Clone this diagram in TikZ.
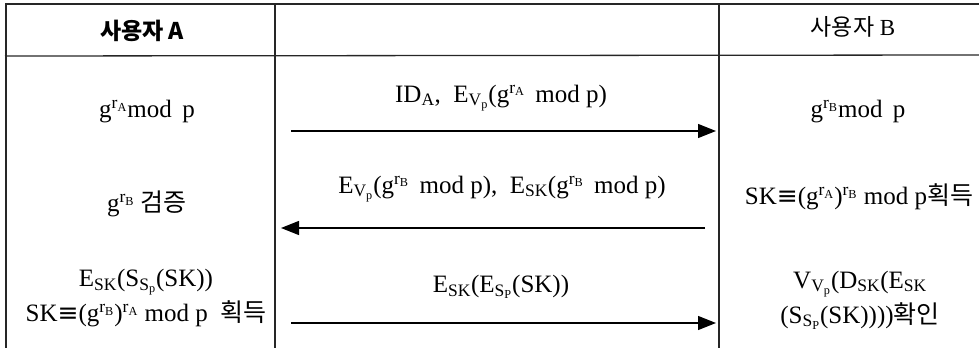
\documentclass[tikz,border=0pt]{standalone}
\usepackage{fontspec}
\setmainfont{Liberation Serif}
\newfontfamily\kr{Noto Sans CJK KR}
\usetikzlibrary{arrows.meta}
\newcommand\mysub[1]{\textsubscript{#1}}
\newcommand\mysup[1]{\textsuperscript{#1}}
\begin{document}
\begin{tikzpicture}[x=1pt,y=-1pt,
  txt/.style={inner sep=0pt,font=\fontsize{25}{34}\selectfont,align=center},
  hdr/.style={inner sep=0pt,font=\fontsize{23}{28}\selectfont},
  grid/.style={line width=1.3pt,black!85},
  msg/.style={line width=1.3pt,-{Triangle[length=18pt,width=14pt]}}]
\useasboundingbox (0,0) rectangle (979,348);
% table lines
\draw[line width=2pt,black!85] (5,4) -- (979,4);
\draw[grid] (5,56) -- (979,55);
\draw[line width=2.6pt,black!85] (6,3) -- (6,348);
\draw[grid] (275,4) -- (275,348);
\draw[grid] (719,4) -- (719,348);
% headers
\node[hdr] (hA) at (142,31) {\kr\bfseries 사용자 A};
\node[hdr] (hB) at (853,27) {{\kr 사용자} B};
% row 1
\node[txt] (a1) at (147,112) {g\mysup{r\mysub{A}}mod\, p};
\node[txt] (m1) at (501,98) {ID\mysub{A}, \ E\mysub{V\mysub{p}}(g\mysup{r\mysub{A}}\, mod p)};
\node[txt] (b1) at (858,112) {g\mysup{r\mysub{B}}mod\, p};
\coordinate (s1) at (291,131);
\coordinate (e1) at (716,131);
\draw[msg] (s1) -- (e1);
% row 2
\node[txt] (a2) at (147,204) {g\mysup{r\mysub{B}} {\kr 검증}};
\node[txt] (m2) at (502,189) {E\mysub{V\mysub{p}}(g\mysup{r\mysub{B}}\, mod p), \ E\mysub{SK}(g\mysup{r\mysub{B}}\, mod p)};
\node[txt] (b2) at (859,197) {SK{\fontspec{DejaVu Sans}≡}(g\mysup{r\mysub{A}})\mysup{r\mysub{B}} mod p{\kr 획득}};
\coordinate (s2) at (705,228);
\coordinate (e2) at (281,228);
\draw[msg] (s2) -- (e2);
% row 3
\node[txt] (a3) at (146,298) {E\mysub{SK}(S\mysub{S\mysub{p}}(SK))\\[1pt]SK{\fontspec{DejaVu Sans}≡}(g\mysup{r\mysub{B}})\mysup{r\mysub{A}} mod p \ {\kr 획득}};
\node[txt] (m3) at (501,287) {E\mysub{SK}(E\mysub{S\mysub{P}}(SK))};
\node[txt] (b3) at (860,300) {V\mysub{V\mysub{p}}(D\mysub{SK}(E\mysub{SK}\\[1pt](S\mysub{S\mysub{P}}(SK)))){\kr 확인}};
\coordinate (s3) at (291,323);
\coordinate (e3) at (716,323);
\draw[msg] (s3) -- (e3);
\end{tikzpicture}
\end{document}
